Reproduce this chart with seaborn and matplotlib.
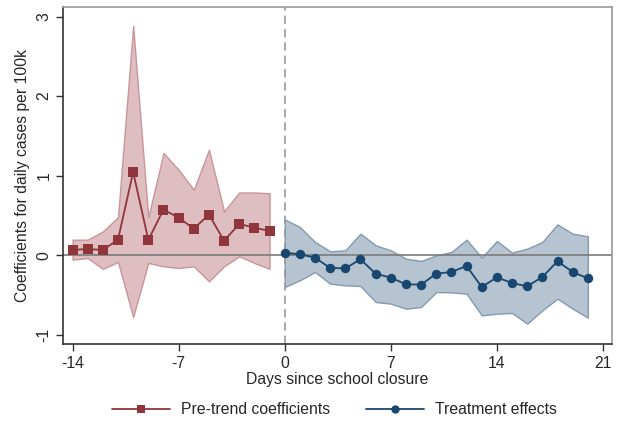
import numpy as np
import pandas as pd
import matplotlib
matplotlib.use("Agg")
import matplotlib.pyplot as plt
import seaborn as sns
from matplotlib.lines import Line2D

# Event-study estimates: days relative to school closure
pre_days = list(range(-14, 0))
pre_coef = [0.067, 0.080, 0.067, 0.197, 1.047, 0.193, 0.574, 0.473, 0.335, 0.511, 0.184, 0.394, 0.348, 0.306]
pre_hi = [0.197, 0.197, 0.30, 0.48, 2.885, 0.48, 1.286, 1.076, 0.825, 1.327, 0.553, 0.79, 0.79, 0.78]
pre_lo = [-0.054, -0.034, -0.17, -0.084, -0.775, -0.096, -0.138, -0.159, -0.138, -0.327, -0.138, -0.013, -0.096, -0.17]

post_days = list(range(0, 21))
post_coef = [0.034, 0.013, -0.029, -0.159, -0.163, -0.050, -0.230, -0.281, -0.364, -0.368, -0.230,
             -0.209, -0.134, -0.398, -0.276, -0.348, -0.389, -0.272, -0.075, -0.209, -0.289]
post_hi = [0.452, 0.356, 0.168, 0.050, 0.063, 0.272, 0.126, 0.063, -0.042, -0.071, 0.0,
           0.042, 0.197, -0.029, 0.180, 0.034, 0.084, 0.168, 0.389, 0.272, 0.239]
post_lo = [-0.398, -0.314, -0.209, -0.356, -0.377, -0.385, -0.586, -0.607, -0.670, -0.649, -0.461,
           -0.465, -0.482, -0.754, -0.733, -0.724, -0.858, -0.691, -0.544, -0.670, -0.783]

x_ticks = [-14, -7, 0, 7, 14, 21]
y_ticks = [-1, 0, 1, 2, 3]

RED = "#90353B"
RED_FILL = "#D9B3B7"
RED_EDGE = "#C38A90"
BLUE = "#1A476F"
BLUE_FILL = "#B2C1CF"
BLUE_EDGE = "#7E97AE"
FS = 11.3

sns.set_style("white")
plt.rcParams["font.family"] = ["Liberation Sans", "DejaVu Sans"]

pre = pd.DataFrame({"day": pre_days, "coef": pre_coef, "lo": pre_lo, "hi": pre_hi})
post = pd.DataFrame({"day": post_days, "coef": post_coef, "lo": post_lo, "hi": post_hi})

fig = plt.figure(figsize=(6.17, 4.23), dpi=100)
ax = fig.add_axes([0.1016, 0.1856, 0.8904, 0.7979])

# confidence bands
ax.fill_between(pre["day"], pre["lo"], pre["hi"], facecolor=RED_FILL, edgecolor=RED_EDGE,
                linewidth=1.0, alpha=0.85, zorder=1)
ax.fill_between(post["day"], post["lo"], post["hi"], facecolor=BLUE_FILL, edgecolor=BLUE_EDGE,
                linewidth=1.0, alpha=0.95, zorder=1)

# reference lines
ax.axhline(0, color="#7a7a7a", linewidth=1.2, zorder=2)
ax.axvline(0, color="#9a9a9a", linewidth=1.2, linestyle=(0, (5, 3)), zorder=2)

# point estimates
sns.lineplot(data=pre, x="day", y="coef", ax=ax, color=RED, marker="s", markersize=6.8,
             markeredgewidth=0, linewidth=1.3, zorder=3)
sns.lineplot(data=post, x="day", y="coef", ax=ax, color=BLUE, marker="o", markersize=6.8,
             markeredgewidth=0, linewidth=1.3, zorder=3)

ax.set_xlim(-14.65, 21.6)
ax.set_ylim(-1.12, 3.12)
ax.set_xticks(x_ticks)
ax.set_yticks(y_ticks)
ax.set_xticklabels([str(t) for t in x_ticks], fontsize=FS)
ax.set_yticklabels([str(t) for t in y_ticks], fontsize=FS, rotation=90, va="center")
ax.tick_params(axis="both", direction="out", length=5, width=1, color="#333333", pad=3,
               bottom=True, left=True)
ax.set_xlabel("Days since school closure", fontsize=FS, labelpad=1)
ax.set_ylabel("Coefficients for daily cases per 100k", fontsize=FS, labelpad=5)

for side in ("left", "bottom"):
    ax.spines[side].set_color("#333333")
    ax.spines[side].set_linewidth(1.2)
for side in ("top", "right"):
    ax.spines[side].set_color("#999999")
    ax.spines[side].set_linewidth(1.2)

handles = [
    Line2D([0], [0], color=RED, marker="s", markersize=6, markeredgewidth=0, linewidth=1.3),
    Line2D([0], [0], color=BLUE, marker="o", markersize=6, markeredgewidth=0, linewidth=1.3),
]
fig.legend(handles, ["Pre-trend coefficients", "Treatment effects"], loc="center",
           bbox_to_anchor=(0.542, 0.031), ncol=2, frameon=False, fontsize=FS,
           handlelength=3.7, columnspacing=2.3, handletextpad=0.7)

fig.savefig("out.png", dpi=100)
